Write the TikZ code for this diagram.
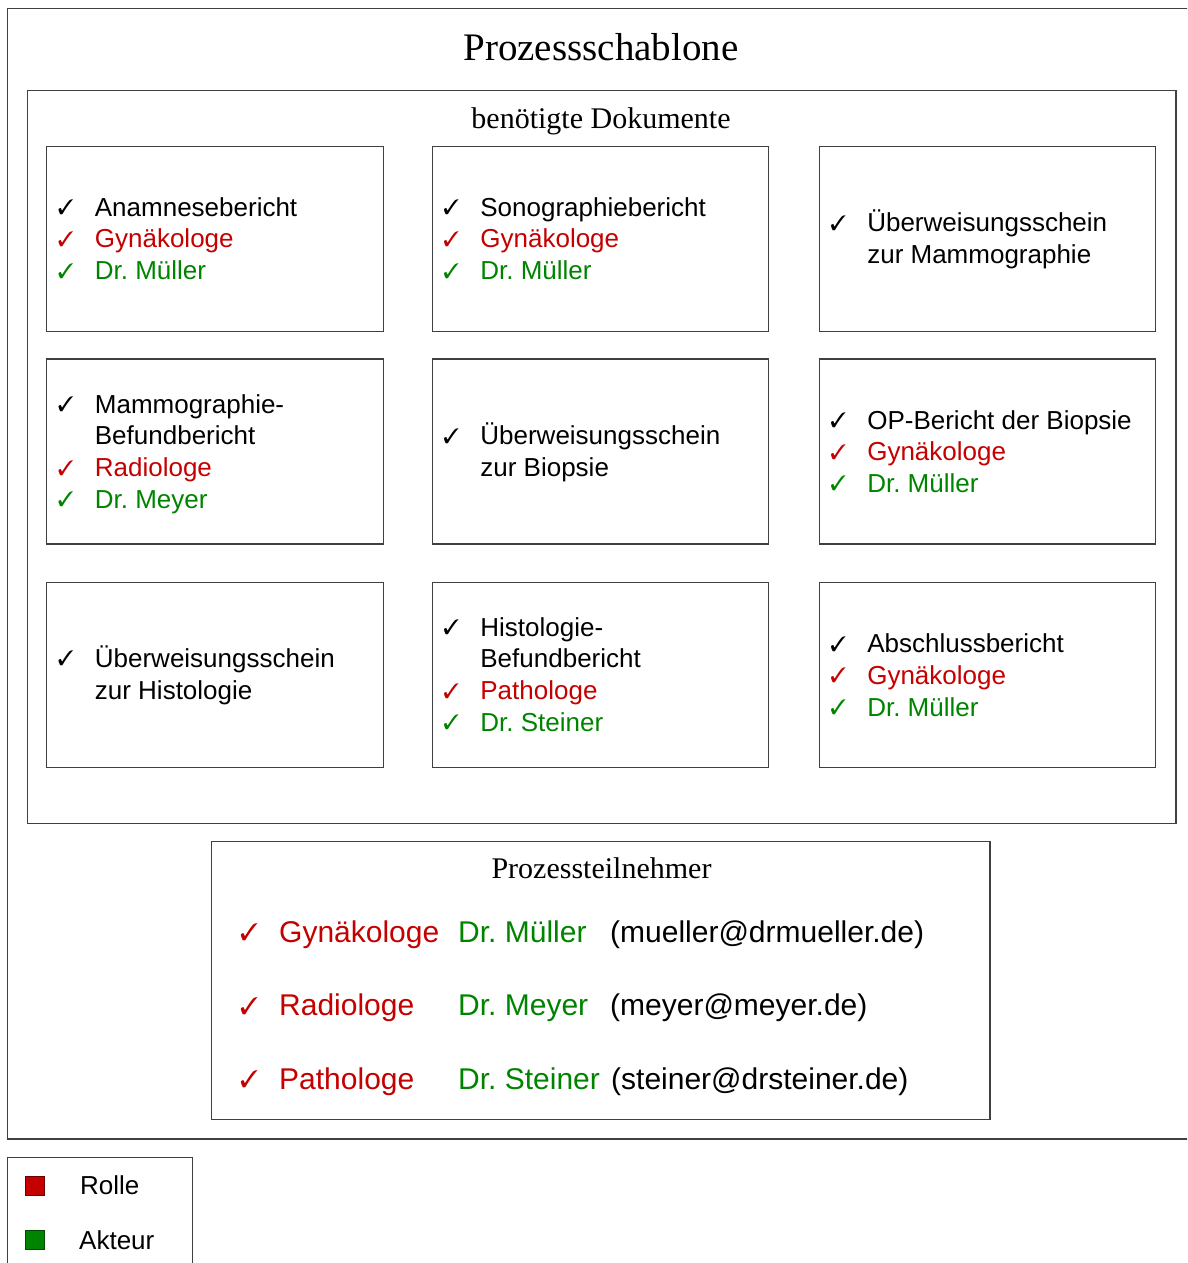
\documentclass[tikz,border=0pt]{standalone}
\usepackage{fontspec}
\setmainfont{Liberation Serif}
\setsansfont{Liberation Sans}
\usepackage{pifont}
\definecolor{rolered}{RGB}{196,0,0}
\definecolor{actorgreen}{RGB}{0,132,0}
\definecolor{framegray}{gray}{0.25}

% check mark followed by a coloured entry; continuation lines are indented alike
\newcommand\smallcheck[1]{\raisebox{1.5pt}{\fontsize{#1}{#1}\selectfont\ding{51}}}
\newcommand\doctick[1]{\makebox[38pt][l]{\hspace*{1pt}\textcolor{#1}{\smallcheck{21}}}}
\newcommand\ckline[2]{\doctick{#1}\textcolor{#1}{#2}}
\newcommand\ckcont[1]{\hspace*{38pt}#1}

\tikzset{
  frame/.style={draw=framegray, line width=1.1pt},
  docbox/.style={frame, minimum width=336.6pt, minimum height=185pt, inner sep=0pt, outer sep=0pt},
  doctext/.style={font=\sffamily\fontsize{26}{31.7}\selectfont, align=left, anchor=west, inner sep=0pt},
  heading/.style={font=\fontsize{30}{36}\selectfont, anchor=base, inner sep=0pt},
  ptext/.style={font=\sffamily\fontsize{30}{36}\selectfont, anchor=base west, inner sep=0pt},
  legtext/.style={font=\sffamily\fontsize{26}{31}\selectfont, anchor=base west, inner sep=0pt},
}

\begin{document}
\frenchspacing
\begin{tikzpicture}[x=1pt, y=-1pt]
  \useasboundingbox (0,0) rectangle (1187,1263);
  \clip (0,0) rectangle (1187,1263);

  % outer frame and title
  \draw[frame] (7.3,8.3) rectangle (1210,1139);
  \node[font=\fontsize{39}{44}\selectfont, anchor=base, inner sep=0pt] (title) at (601,60.5) {Prozessschablone};

  % documents frame
  \draw[frame] (27.3,90.7) rectangle (1176,823.3);
  \node[heading] (dochead) at (601,128) {benötigte Dokumente};

  % document boxes
  \node[docbox] (d11) at (215,239.2) {};
  \node[docbox] (d12) at (600.5,239.2) {};
  \node[docbox] (d13) at (987.4,239.2) {};
  \node[docbox] (d21) at (215,451.5) {};
  \node[docbox] (d22) at (600.5,451.5) {};
  \node[docbox] (d23) at (987.4,451.5) {};
  \node[docbox] (d31) at (215,675) {};
  \node[docbox] (d32) at (600.5,675) {};
  \node[docbox] (d33) at (987.4,675) {};

  \node[doctext] (t11) at ([xshift=10pt,yshift=0.5pt]d11.west)
    {\ckline{black}{Anamnesebericht}\\\ckline{rolered}{Gynäkologe}\\\ckline{actorgreen}{Dr. Müller}};
  \node[doctext] (t12) at ([xshift=10pt,yshift=0.5pt]d12.west)
    {\ckline{black}{Sonographiebericht}\\\ckline{rolered}{Gynäkologe}\\\ckline{actorgreen}{Dr. Müller}};
  \node[doctext] (t13) at ([xshift=10pt]d13.west)
    {\ckline{black}{Überweisungsschein}\\\ckcont{zur Mammographie}};
  \node[doctext] (t21) at ([xshift=10pt,yshift=-2.5pt]d21.west)
    {\ckline{black}{Mammographie-}\\\ckcont{Befundbericht}\\\ckline{rolered}{Radiologe}\\\ckline{actorgreen}{Dr. Meyer}};
  \node[doctext] (t22) at ([xshift=10pt,yshift=-1pt]d22.west)
    {\ckline{black}{Überweisungsschein}\\\ckcont{zur Biopsie}};
  \node[doctext] (t23) at ([xshift=10pt]d23.west)
    {\ckline{black}{OP-Bericht der Biopsie}\\\ckline{rolered}{Gynäkologe}\\\ckline{actorgreen}{Dr. Müller}};
  \node[doctext] (t31) at ([xshift=10pt]d31.west)
    {\ckline{black}{Überweisungsschein}\\\ckcont{zur Histologie}};
  \node[doctext] (t32) at ([xshift=10pt,yshift=0.5pt]d32.west)
    {\ckline{black}{Histologie-}\\\ckcont{Befundbericht}\\\ckline{rolered}{Pathologe}\\\ckline{actorgreen}{Dr. Steiner}};
  \node[doctext] (t33) at ([xshift=10pt]d33.west)
    {\ckline{black}{Abschlussbericht}\\\ckline{rolered}{Gynäkologe}\\\ckline{actorgreen}{Dr. Müller}};

  % participants
  \draw[frame] (211.7,841.7) rectangle (990,1119.3);
  \node[heading] (parthead) at (601.5,878.3) {Prozessteilnehmer};

  \node[ptext, text=rolered] (c1) at (240,942) {\smallcheck{24}};
  \node[ptext, text=rolered] (r1) at (279,942) {Gynäkologe};
  \node[ptext, text=actorgreen] (a1) at (458,942) {Dr. Müller};
  \node[ptext] (m1) at (610,942) {(mueller@drmueller.de)};

  \node[ptext, text=rolered] (c2) at (240,1015.5) {\smallcheck{24}};
  \node[ptext, text=rolered] (r2) at (279,1015.5) {Radiologe};
  \node[ptext, text=actorgreen] (a2) at (458,1015.5) {Dr. Meyer};
  \node[ptext] (m2) at (610,1015.5) {(meyer@meyer.de)};

  \node[ptext, text=rolered] (c3) at (240,1089) {\smallcheck{24}};
  \node[ptext, text=rolered] (r3) at (279,1089) {Pathologe};
  \node[ptext, text=actorgreen] (a3) at (458,1089) {Dr. Steiner};
  \node[ptext] (m3) at (611,1089) {(steiner@drsteiner.de)};

  % legend
  \draw[frame] (7.3,1157.3) rectangle (192.3,1290);
  \node[draw=rolered!55!black, fill=rolered, line width=0.8pt, minimum size=19pt, inner sep=0pt] (lrole) at (35.3,1185.8) {};
  \node[draw=actorgreen!55!black, fill=actorgreen, line width=0.8pt, minimum size=19pt, inner sep=0pt] (lactor) at (35.3,1240.3) {};
  \node[legtext] (trole) at (80,1194.3) {Rolle};
  \node[legtext] (tactor) at (79,1249.3) {Akteur};
\end{tikzpicture}
\end{document}
